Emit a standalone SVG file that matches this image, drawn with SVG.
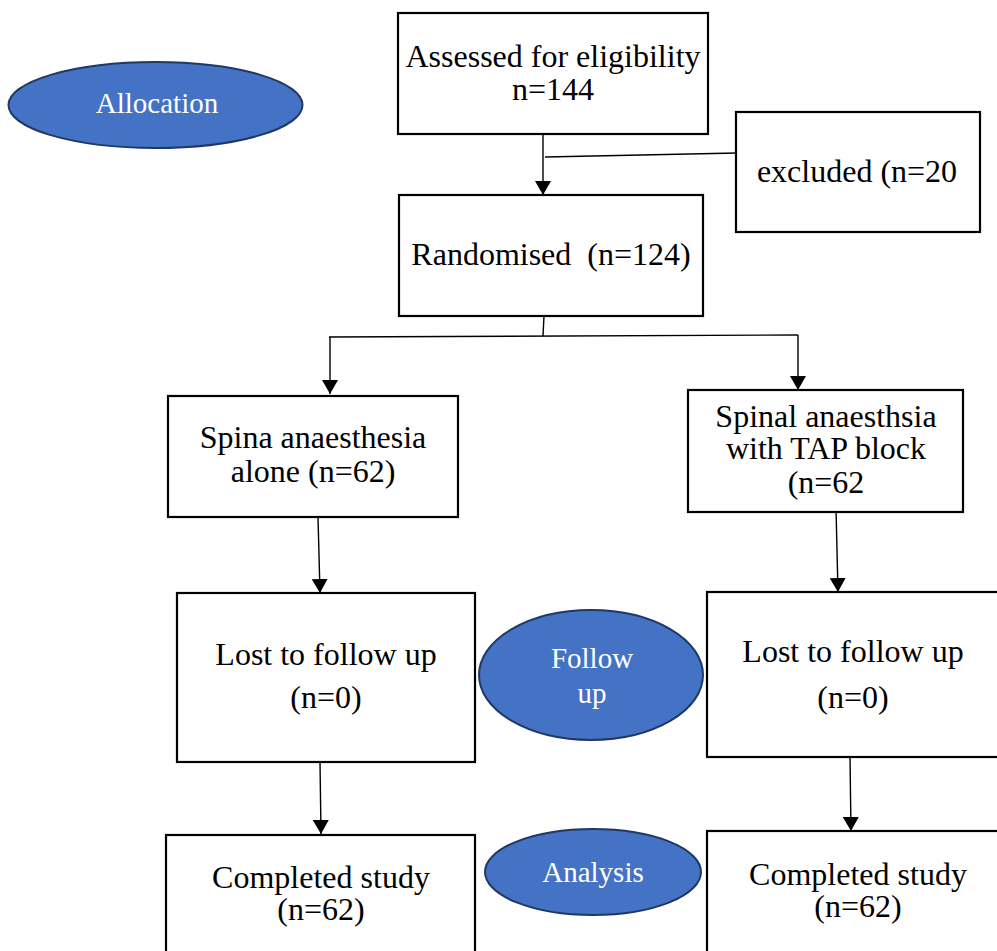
<svg xmlns="http://www.w3.org/2000/svg" width="997" height="951" viewBox="0 0 997 951">
<style>
.box{fill:#fff;stroke:#000;stroke-width:2.2}
.t{font-family:"Liberation Serif","Times New Roman",serif;font-size:32px;fill:#000;text-anchor:middle}
.ell{fill:#4472C4;stroke:#1F3864;stroke-width:2}
.et{font-family:"Liberation Serif","Times New Roman",serif;font-size:29px;fill:#fff;text-anchor:middle}
.c{stroke:#000;stroke-width:1.4;fill:none}
.a{marker-end:url(#ah)}
</style>
<defs>
<marker id="ah" markerWidth="15" markerHeight="16" refX="14" refY="8" orient="auto" markerUnits="userSpaceOnUse"><path d="M0,0 L14,8 L0,16 Z" fill="#000"/></marker>
</defs>
<rect width="997" height="951" fill="#fff"/>
<g id="connectors">
<line class="c a" x1="543" y1="134" x2="543" y2="195"/>
<line class="c" x1="545" y1="157" x2="737" y2="153"/>
<line class="c" x1="544" y1="316" x2="543" y2="336"/>
<line class="c" x1="329" y1="337" x2="798" y2="335"/>
<line class="c a" x1="330" y1="337" x2="330" y2="394"/>
<line class="c a" x1="798" y1="335" x2="798" y2="390"/>
<line class="c a" x1="318" y1="517" x2="320" y2="593"/>
<line class="c a" x1="836" y1="508" x2="838" y2="592"/>
<line class="c a" x1="320" y1="762" x2="321" y2="834"/>
<line class="c a" x1="850" y1="757" x2="851" y2="831"/>
</g>
<g id="allocation">
<ellipse class="ell" cx="155.5" cy="105" rx="147" ry="43"/>
<text class="et" x="157" y="113">Allocation</text>
</g>
<g id="assessed">
<rect class="box" x="398" y="13" width="310" height="121"/>
<text class="t" x="553" y="67">Assessed for eligibility</text>
<text class="t" x="553" y="100">n=144</text>
</g>
<g id="excluded">
<rect class="box" x="736" y="112" width="244" height="120"/>
<text class="t" x="857" y="182">excluded (n=20</text>
</g>
<g id="randomised">
<rect class="box" x="399" y="195" width="304" height="121"/>
<text class="t" x="551" y="265" xml:space="preserve">Randomised  (n=124)</text>
</g>
<g id="spinal-alone">
<rect class="box" x="168" y="396" width="290" height="121"/>
<text class="t" x="313" y="448">Spina anaesthesia</text>
<text class="t" x="313" y="482">alone (n=62)</text>
</g>
<g id="spinal-tap">
<rect class="box" x="688" y="390" width="275" height="122"/>
<text class="t" x="826" y="427">Spinal anaesthsia</text>
<text class="t" x="826" y="459">with TAP block</text>
<text class="t" x="826" y="493">(n=62</text>
</g>
<g id="lost-left">
<rect class="box" x="177" y="593" width="298" height="169"/>
<text class="t" x="326" y="665">Lost to follow up</text>
<text class="t" x="326" y="708">(n=0)</text>
</g>
<g id="followup">
<ellipse class="ell" cx="591" cy="675" rx="112" ry="65"/>
<text class="et" x="592" y="668">Follow</text>
<text class="et" x="592" y="703">up</text>
</g>
<g id="lost-right">
<rect class="box" x="707" y="592" width="300" height="165"/>
<text class="t" x="853" y="662">Lost to follow up</text>
<text class="t" x="853" y="708">(n=0)</text>
</g>
<g id="completed-left">
<rect class="box" x="166" y="835" width="309" height="130"/>
<text class="t" x="321" y="888">Completed study</text>
<text class="t" x="321" y="920">(n=62)</text>
</g>
<g id="analysis">
<ellipse class="ell" cx="593" cy="872" rx="108" ry="43"/>
<text class="et" x="593" y="882">Analysis</text>
</g>
<g id="completed-right">
<rect class="box" x="707" y="831" width="300" height="130"/>
<text class="t" x="858" y="885">Completed study</text>
<text class="t" x="858" y="917">(n=62)</text>
</g>
</svg>
